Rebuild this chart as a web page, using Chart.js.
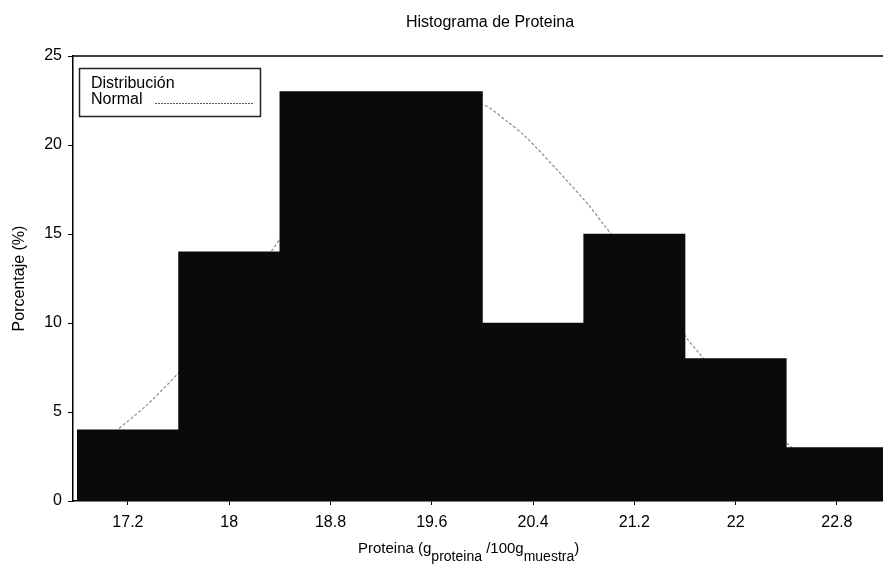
<!DOCTYPE html>
<html>
<head>
<meta charset="utf-8">
<script src="https://cdn.jsdelivr.net/npm/chart.js@4/dist/chart.umd.min.js"></script>
<style>
  html, body { margin: 0; padding: 0; background: #ffffff; }
  #wrap { width: 883px; height: 565px; position: relative; }
</style>
</head>
<body>
<div id="wrap"><canvas id="c" width="883" height="565"></canvas></div>
<script>
// ---- data ----
const binCenters = [17.2, 18, 18.8, 19.6, 20.4, 21.2, 22, 22.8];
const percentages = [4, 14, 23, 23, 10, 15, 8, 3];
const xTickValues = [17.2, 18, 18.8, 19.6, 20.4, 21.2, 22, 22.8];
const yTickValues = [0, 5, 10, 15, 20, 25];
const normalX = [17.10, 17.35, 17.60, 17.90, 18.10, 18.32, 18.60, 19.00, 19.40, 19.70, 20.00, 20.20, 20.35, 20.59, 20.83, 20.95, 21.20, 21.40, 21.62, 21.70, 22.00, 22.20, 22.41, 22.50];
const normalY = [3.9, 5.4, 7.2, 9.6, 11.6, 13.9, 16.6, 19.8, 22.0, 22.8, 22.3, 21.3, 20.4, 18.6, 16.7, 15.6, 13.3, 11.3, 9.1, 8.4, 5.9, 4.4, 3.2, 2.7];
const chartTitle = 'Histograma de Proteina';
const yTitle = 'Porcentaje (%)';
const xTitleParts = [
  { text: 'Proteina (g', sub: false },
  { text: 'proteina', sub: true },
  { text: ' /100g', sub: false },
  { text: 'muestra', sub: true },
  { text: ')', sub: false }
];
const legendLines = ['Distribución', 'Normal'];

const FONT = '"Liberation Sans", Arial, sans-serif';

const textPlugin = {
  id: 'texts',
  afterDraw(chart) {
    const ctx = chart.ctx;
    const a = chart.chartArea;
    ctx.save();
    // top frame line
    ctx.strokeStyle = '#000';
    ctx.lineWidth = 1.5;
    ctx.beginPath();
    ctx.moveTo(a.left, a.top);
    ctx.lineTo(a.right, a.top);
    ctx.stroke();

    ctx.fillStyle = '#000';
    // title
    ctx.font = '16px ' + FONT;
    ctx.textAlign = 'center';
    ctx.textBaseline = 'alphabetic';
    ctx.fillText(chartTitle, 490, 27);

    // y title
    ctx.save();
    ctx.translate(24, (a.top + a.bottom) / 2);
    ctx.rotate(-Math.PI / 2);
    ctx.textAlign = 'center';
    ctx.fillText(yTitle, 0, 0);
    ctx.restore();

    // x title with subscripts
    ctx.textAlign = 'left';
    let x = 358;
    xTitleParts.forEach(p => {
      ctx.font = (p.sub ? '14px ' : '15px ') + FONT;
      const y = p.sub ? 561 : 553;
      ctx.fillText(p.text, x, y);
      x += ctx.measureText(p.text).width;
    });

    // legend box
    ctx.strokeStyle = '#222';
    ctx.lineWidth = 1.5;
    ctx.strokeRect(79.5, 68.5, 181, 48);
    ctx.font = '16px ' + FONT;
    ctx.fillText(legendLines[0], 91, 88);
    ctx.fillText(legendLines[1], 91, 104);
    ctx.strokeStyle = '#555';
    ctx.lineWidth = 1;
    ctx.setLineDash([2, 1]);
    ctx.beginPath();
    ctx.moveTo(155, 103.5);
    ctx.lineTo(253, 103.5);
    ctx.stroke();
    ctx.setLineDash([]);
    ctx.restore();
  }
};

new Chart(document.getElementById('c'), {
  type: 'bar',
  data: {
    datasets: [
      {
        type: 'bar',
        label: 'Histograma',
        data: binCenters.map((v, i) => ({ x: v, y: percentages[i] })),
        backgroundColor: '#0a0a0a',
        borderWidth: 0,
        barPercentage: 1,
        categoryPercentage: 1,
        grouped: false,
        order: 1
      },
      {
        type: 'line',
        label: 'Distribución Normal',
        data: normalX.map((v, i) => ({ x: v, y: normalY[i] })),
        borderColor: '#8c8c8c',
        borderWidth: 1.2,
        borderDash: [3, 2],
        pointRadius: 0,
        fill: false,
        tension: 0.3,
        order: 2
      }
    ]
  },
  options: {
    responsive: false,
    animation: false,
    devicePixelRatio: 1,
    layout: { padding: { top: 56, left: 0, right: 0, bottom: 0 } },
    plugins: { legend: { display: false }, tooltip: { enabled: false }, title: { display: false } },
    scales: {
      x: {
        type: 'linear',
        min: 16.766,
        max: 23.164,
        offset: false,
        afterFit: s => { s.height = 64; },
        afterBuildTicks: s => { s.ticks = xTickValues.map(v => ({ value: v })); },
        ticks: {
          font: { family: FONT, size: 16 },
          color: '#000',
          padding: 8,
          maxRotation: 0,
          autoSkip: false,
          callback: v => String(v)
        },
        grid: { display: true, offset: false, drawOnChartArea: false, drawTicks: true, tickLength: 4, color: '#000' },
        border: { display: true, color: '#000', width: 1.5 }
      },
      y: {
        min: 0,
        max: 25,
        afterFit: s => { s.width = 73; },
        afterBuildTicks: s => { s.ticks = yTickValues.map(v => ({ value: v })); },
        ticks: {
          font: { family: FONT, size: 16 },
          color: '#000',
          padding: 6,
          callback: v => String(v)
        },
        grid: { display: true, drawOnChartArea: false, drawTicks: true, tickLength: 5, color: '#000' },
        border: { display: true, color: '#000', width: 1.5 }
      }
    }
  },
  plugins: [textPlugin]
});
</script>
</body>
</html>
